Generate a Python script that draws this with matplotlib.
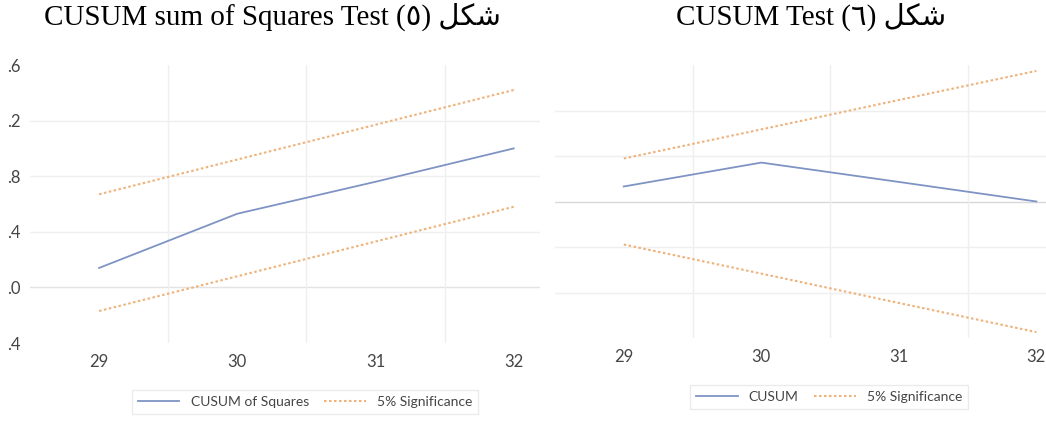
import numpy as np
import matplotlib
matplotlib.use("Agg")
import matplotlib.pyplot as plt

# ----------------------------------------------------------------------
# data
# ----------------------------------------------------------------------
years = [29, 30, 31, 32]

# left panel: CUSUM of squares
cusumsq = [0.14, 0.53, 0.76, 1.00]
sq_upper = [0.67, 0.92, 1.17, 1.42]
sq_lower = [-0.17, 0.08, 0.33, 0.58]
sq_yticks = [-0.4, 0.0, 0.4, 0.8, 1.2, 1.6]
sq_ylabels = [".4", ".0", ".4", ".8", ".2", ".6"]   # cropped in the original

# right panel: CUSUM
cusum = [0.66, 1.71, 0.86, 0.0]
cu_upper = [1.89, 3.17, 4.46, 5.74]
cu_lower = [-1.89, -3.17, -4.46, -5.74]

title_left = "CUSUM sum of Squares Test (\u0665) \ufede\ufedc\ufeb7"
title_right = "CUSUM Test (\u0666) \ufede\ufedc\ufeb7"

BLUE = "#7f94c4"
ORANGE = "#eeb27a"
GRID = "#efefef"
TXT = "#454545"

W, H = 1046, 421
fig = plt.figure(figsize=(W / 100, H / 100), dpi=100)


def px_axes(left, top, right, bottom):
    return fig.add_axes([left / W, 1 - bottom / H, (right - left) / W, (bottom - top) / H])


def style(ax):
    for s in ax.spines.values():
        s.set_visible(False)
    ax.tick_params(length=0, colors=TXT, labelsize=12)
    for lab in ax.get_xticklabels() + ax.get_yticklabels():
        lab.set_family(["Lato", "DejaVu Sans"])
    for xv in [29.5, 30.5, 31.5]:
        ax.axvline(xv, color=GRID, lw=1, zorder=0)


# ---------------- left panel ----------------
ax1 = px_axes(30, 65, 540, 343)
ax1.set_xlim(28.5, 32.19)
ax1.set_ylim(-0.4, 1.6)
for yv in sq_yticks[1:-1]:
    ax1.axhline(yv, color="#e3e3e3" if yv == 0 else GRID, lw=1, zorder=0)
ax1.plot(years, cusumsq, color=BLUE, lw=1.3, label="CUSUM of Squares")
ax1.plot(years, sq_upper, color=ORANGE, lw=1.5, ls=(0, (1.2, 1.2)), label="5% Significance")
ax1.plot(years, sq_lower, color=ORANGE, lw=1.5, ls=(0, (1.2, 1.2)))
ax1.set_xticks(years)
ax1.set_yticks(sq_yticks)
ax1.set_yticklabels(sq_ylabels)
ax1.tick_params(axis="x", pad=8)
ax1.tick_params(axis="y", pad=7)
style(ax1)
leg1 = ax1.legend(loc="center", bbox_to_anchor=(305 / W, 1 - 402 / H),
                  bbox_transform=fig.transFigure, ncol=2, frameon=True,
                  fancybox=False, edgecolor="#e6e6e6", handlelength=3.0,
                  columnspacing=1.1, prop={"family": ["Lato", "DejaVu Sans"], "size": 10})
for t in leg1.get_texts():
    t.set_color(TXT)

# ---------------- right panel ----------------
ax2 = px_axes(555, 65, 1046, 338)
ax2.set_xlim(28.5, 32.07)
ax2.set_ylim(-6, 6)
for yv in [-4, -2, 0, 2, 4]:
    ax2.axhline(yv, color="#d8d8d8" if yv == 0 else GRID, lw=1, zorder=0)
ax2.plot(years, cusum, color=BLUE, lw=1.3, label="CUSUM")
ax2.plot(years, cu_upper, color=ORANGE, lw=1.5, ls=(0, (1.2, 1.2)), label="5% Significance")
ax2.plot(years, cu_lower, color=ORANGE, lw=1.5, ls=(0, (1.2, 1.2)))
ax2.set_xticks(years)
ax2.set_yticks([])
ax2.tick_params(axis="x", pad=8)
style(ax2)
leg2 = ax2.legend(loc="center", bbox_to_anchor=(829 / W, 1 - 397 / H),
                  bbox_transform=fig.transFigure, ncol=2, frameon=True,
                  fancybox=False, edgecolor="#e6e6e6", handlelength=3.0,
                  columnspacing=1.1, prop={"family": ["Lato", "DejaVu Sans"], "size": 10})
for t in leg2.get_texts():
    t.set_color(TXT)

# titles
fig.text(272 / W, 1 - 17 / H, title_left, ha="center", va="center", fontsize=21,
         family=["Liberation Serif", "DejaVu Sans"], color="black")
fig.text(811 / W, 1 - 17 / H, title_right, ha="center", va="center", fontsize=21,
         family=["Liberation Serif", "DejaVu Sans"], color="black")

fig.savefig("out.png", dpi=100)
